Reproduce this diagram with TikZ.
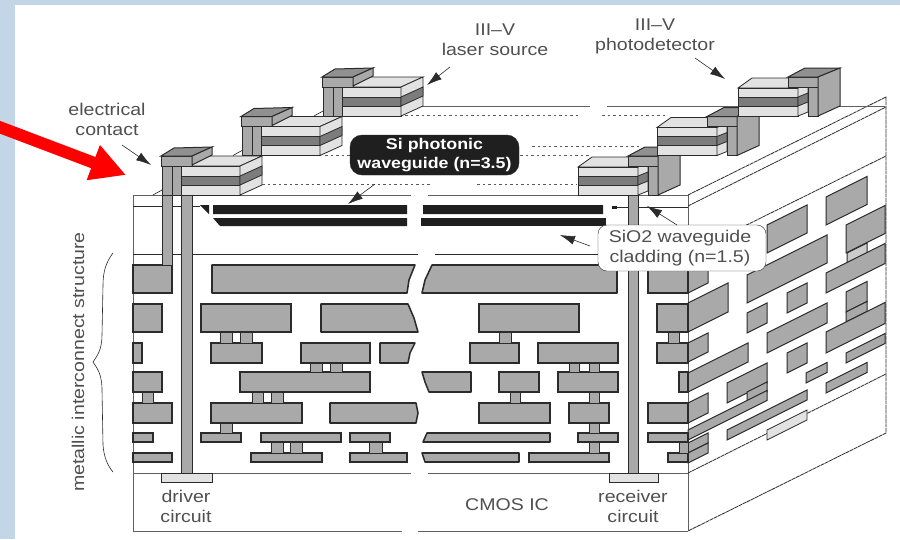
\documentclass[tikz,border=0pt]{standalone}
\usepackage{fontspec}
\usetikzlibrary{arrows.meta}
\newfontfamily\iclabfont[FakeStretch=1.15]{Liberation Sans}
\definecolor{icbg}{HTML}{C2D6E8}
\definecolor{icmid}{HTML}{A9A9A9}
\definecolor{icdark}{HTML}{7C7C7C}
\definecolor{iclight}{HTML}{E2E2E2}
\definecolor{icline}{HTML}{2B2B2B}
\definecolor{ictext}{HTML}{505050}
\newcommand{\icside}[5][icsidebox]{\draw[#1] (#2,#4) -- (#3,{#4-0.5*(#3-#2)}) -- (#3,{#5-0.5*(#3-#2)}) -- (#2,#5) -- cycle;}
\tikzset{
  icmetal/.style={draw=icline, line width=1.2pt, fill=icmid},
  icbroken/.style={draw=icline, line width=1.55pt, fill=icmid, line join=round},
  icvia/.style={draw=icline, line width=1pt, fill=icmid},
  icsidebox/.style={draw=icline, line width=1pt, fill=icmid},
  icpale/.style={draw=icline, line width=0.8pt, fill=iclight},
  icedge/.style={draw=gray!75!black, line width=0.9pt},
  icskew/.style={draw=icline, line width=0.8pt, dash pattern=on 4pt off 0.6pt},
  icdots/.style={draw=gray!70!black, line width=1pt, dash pattern=on 2.5pt off 3pt},
  icguide/.style={fill=black!88},
  iclab/.style={font=\iclabfont\fontsize{17}{20}\selectfont, text=ictext, align=center, inner sep=0pt},
  icarr/.style={-{Latex[length=15pt,width=9pt]}, draw=icline, line width=0.6pt},
  icredarr/.style={-{Triangle[length=35pt,width=35pt]}, draw=red, line width=12pt},
  icsource/.pic={
    \draw[icpale] (181,166) -- (197,156) -- (262,156) -- (240,166) -- cycle;
    \draw[icpale] (181,166) rectangle (240,195);
    \draw[icpale, fill=icdark] (181,176) rectangle (240,185);
    \draw[icpale] (240,166) -- (262,156) -- (262,185) -- (240,195) -- cycle;
    \draw[icpale, fill=icdark] (240,176) -- (262,166) -- (262,175) -- (240,185) -- cycle;
    \draw[icvia] (162,166) rectangle (172,195);
    \draw[icvia] (172,166) rectangle (181,195);
    \draw[icvia] (161,156) rectangle (192,166);
    \draw[icvia, fill=icdark!85] (161,156) -- (174,148) -- (212,147) -- (192,156) -- cycle;
    \draw[icvia] (192,156) -- (212,147) -- (212,155) -- (192,165) -- cycle;
    \draw[line width=0.5pt] (153,195) -- (162,190);
  },
  icdetector/.pic={
    \draw[icpale] (578,167) -- (592,157) -- (650,157) -- (638,167) -- cycle;
    \draw[icpale] (578,167) rectangle (638,195);
    \draw[icpale, fill=icdark] (578,176) rectangle (638,185);
    \draw[icpale] (638,167) -- (648,162) -- (648,191) -- (638,195) -- cycle;
    \draw[icpale, fill=icdark] (638,176) -- (648,172) -- (648,181) -- (638,185) -- cycle;
    \draw[icvia] (648,166) rectangle (658,195);
    \draw[icvia] (628,156) rectangle (658,166);
    \draw[icvia, fill=icdark!85] (628,156) -- (645,147) -- (680,147) -- (658,156) -- cycle;
    \draw[icvia] (658,156) -- (680,147) -- (680,185) -- (658,195) -- cycle;
  }
}
\begin{document}
\begin{tikzpicture}[x=1pt,y=-1pt]
    \useasboundingbox (0,0) rectangle (900,539);
    \fill[icbg] (0,0) rectangle (900,539);
    \fill[white] (15,5) rectangle (900,539);

    % front face
    \draw[icedge] (133,195) -- (133,531);
    \draw[icedge] (133,195) -- (411,195) (428,195) -- (688,195);
    \draw[icedge, icline] (133,206) -- (200,206) (612,207) -- (688,207);
    \draw[icedge, icline] (133,254) -- (418,254) (435,254) -- (688,254);
    \draw[icedge] (133,473) -- (411,473) (428,473) -- (688,473);
    \draw[icedge] (133,531) -- (402,531) (418,531) -- (688,531);
    \draw[icedge] (688,195) -- (688,531);

    % right face
    \draw[icskew] (688,195) -- (886,97) -- (886,433) -- (688,531);
    \draw[icskew] (688,206) -- (886,107);
    \draw[icskew] (688,254) -- (886,156);
    \draw[icskew] (688,473) -- (886,374);

    \icside{826}{867}{197}{225}
    \icside{767}{807}{225}{253}
    \icside{747}{827}{275}{303}
    \icside{846}{885}{225}{253}
    \icside[icsidebox, fill=iclight!60!icmid]{847}{867}{253}{263}
    \icside{826}{885}{273}{293}
    \icside{787}{807}{293}{313}
    \icside{747}{767}{313}{333}
    \icside{767}{827}{333}{353}
    \icside{846}{867}{292}{312}
    \icside{846}{867}{312}{322}
    \icside{826}{885}{332}{353}
    \icside{846}{885}{353}{363}
    \icside{787}{807}{353}{373}
    \icside{806}{827}{373}{383}
    \icside{826}{867}{383}{393}
    \icside{727}{767}{383}{403}
    \icside{747}{767}{392}{402}
    \icside{688}{767}{430}{440}
    \icside{727}{807}{430}{440}
    \icside[icpale]{767}{807}{430}{440}
    \icside{688}{708}{270}{293}
    \icside{688}{728}{303}{332}
    \icside{688}{708}{343}{362}
    \icside{688}{748}{373}{392}
    \icside{688}{708}{403}{423}
    \icside{688}{708}{443}{453}
    \icside{688}{708}{453}{463}

    % metal rows
    \draw[icmetal] (133,265) rectangle (172,293) (648,265) rectangle (688,293);
    \draw[icbroken] (212,265) -- (415,265) -- (409,280) -- (407,293) -- (212,293) -- cycle;
    \draw[icbroken] (432,265) -- (617,265) -- (617,293) -- (422,293) -- (425,280) -- cycle;

    \draw[icmetal] (133,304) rectangle (162,332) (201,304) rectangle (291,332) (479,304) rectangle (579,332) (657,304) rectangle (688,332);
    \draw[icbroken] (321,304) -- (408,304) -- (414,318) -- (418,332) -- (321,332) -- cycle;

    \draw[icmetal] (133,343) rectangle (142,363) (211,343) rectangle (262,363) (301,343) rectangle (370,363) (470,343) rectangle (519,363) (538,343) rectangle (618,363) (657,343) rectangle (688,363);
    \draw[icbroken] (380,343) -- (415,343) -- (410,353) -- (408,363) -- (380,363) -- cycle;

    \draw[icmetal] (133,372) rectangle (162,392) (240,372) rectangle (370,392) (499,372) rectangle (539,392) (558,372) rectangle (618,392) (679,372) rectangle (688,392);
    \draw[icbroken] (422,372) -- (471,372) -- (471,392) -- (429,392) -- (425,382) -- cycle;

    \draw[icmetal] (133,403) rectangle (172,423) (211,403) rectangle (302,423) (479,403) rectangle (550,423) (569,403) rectangle (609,423) (648,403) rectangle (688,423);
    \draw[icbroken] (330,403) -- (416,403) -- (418,413) -- (416,423) -- (330,423) -- cycle;

    \draw[icmetal] (133,433) rectangle (153,442) (201,433) rectangle (241,442) (261,433) rectangle (341,442) (350,433) rectangle (390,442) (578,433) rectangle (618,442) (648,433) rectangle (688,442);
    \draw[icbroken] (427,433) -- (550,433) -- (550,442) -- (423,442) -- cycle;

    \draw[icmetal] (133,453) rectangle (172,462) (251,453) rectangle (322,462) (350,453) rectangle (407,462) (529,453) rectangle (609,462) (668,453) rectangle (688,462);
    \draw[icbroken] (422,453) -- (519,453) -- (519,462) -- (425,462) -- cycle;

    % vias
    \draw[icvia] (220,332) rectangle (232,343) (240,332) rectangle (252,343) (499,332) rectangle (511,343) (668,332) rectangle (679,343);
    \draw[icvia] (310,363) rectangle (322,372) (330,363) rectangle (342,372) (569,363) rectangle (579,372) (589,363) rectangle (599,372);
    \draw[icvia] (142,392) rectangle (153,403) (252,392) rectangle (263,403) (271,392) rectangle (283,403) (510,392) rectangle (520,403) (589,392) rectangle (599,403);
    \draw[icvia] (220,423) rectangle (232,433) (589,423) rectangle (599,433);
    \draw[icvia] (271,442) rectangle (283,453) (290,442) rectangle (302,453) (369,442) rectangle (382,453) (589,442) rectangle (599,453) (679,442) rectangle (688,453);

    % long contacts and pads
    \draw[icvia] (162,195) rectangle (172,265);
    \draw[icvia] (181,195) rectangle (192,473);
    \draw[icvia] (628,195) rectangle (638,473);
    \draw[icpale] (161,473) rectangle (212,482);
    \draw[icpale] (609,473) rectangle (658,482);

    % waveguides
    \fill[icguide] (200,205) -- (209,205) -- (209,214) -- cycle;
    \fill[icguide] (213,205) rectangle (407,214) (423,205) rectangle (603,214);
    \fill[icguide] (213,218) -- (407,218) -- (407,226) -- (220,226) -- cycle;
    \fill[icguide] (421,218) rectangle (606,226);
    \fill[icguide] (612,206) rectangle (617,209);

    % top surface
    \draw[icdots] (262,184) -- (432,184) (477,184) -- (577,184);
    \draw[icdots] (325,155) -- (350,155) (520,155) -- (590,155);
    \draw[icdots] (532,146) -- (640,146);
    \draw[icdots] (405,115) -- (580,115) (602,115) -- (667,115);
    \draw[icedge] (421,106) -- (590,106) (607,106) -- (740,106) (837,106) -- (885,106);

    \pic at (0,0) {icsource};
    \pic at (80,-39.5) {icsource};
    \pic at (161,-79) {icsource};
    \pic at (0,0) {icdetector};
    \pic at (79,-39.5) {icdetector};
    \pic at (160,-79) {icdetector};

    % labels
    \node[iclab] (laser) at (495,40) {III–V\\laser source};
    \node[iclab] (photo) at (655,36) {III–V\\photodetector};
    \node[iclab] (contact) at (107,119) {electrical\\contact};
    \node[iclab, rotate=90] (metallic) at (78,362) {metallic interconnect structure};
    \node[iclab] (driver) at (186,506) {driver\\circuit};
    \node[iclab] (cmos) at (507,505) {CMOS IC};
    \node[iclab] (receiver) at (633,506) {receiver\\circuit};
    \node[iclab, draw=icline, fill=black!88, text=white, rounded corners=12pt, minimum width=169pt, minimum height=40pt, font=\iclabfont\fontsize{15.5}{19}\selectfont\bfseries] (photonic) at (434.5,155) {Si photonic\\waveguide (n=3.5)};
    \node[iclab, draw=icline, fill=white, rounded corners=9pt, minimum width=168pt, minimum height=46pt] (cladding) at (682,248) {\hspace*{-4pt}SiO2 waveguide\\\hspace*{-4pt}cladding (n=1.5)};

    % pointers
    \coordinate (contacttail) at (122,145);
    \coordinate (contacttip) at (151,165);
    \coordinate (lasertail) at (450,67);
    \coordinate (lasertip) at (427,85);
    \coordinate (phototail) at (695,58);
    \coordinate (phototip) at (725,79);
    \coordinate (photonictail) at (375,184);
    \coordinate (photonictip) at (348,204);
    \coordinate (gluetail) at (677,225);
    \coordinate (gluetip) at (647,206);
    \coordinate (cladtail) at (590,246);
    \coordinate (cladtip) at (560,235);
    \draw[icarr] (contacttail) -- (contacttip);
    \draw[icarr] (lasertail) -- (lasertip);
    \draw[icarr] (phototail) -- (phototip);
    \draw[icarr] (photonictail) -- (photonictip);
    \draw[icarr] (gluetail) -- (gluetip);
    \draw[icarr] (cladtail) -- (cladtip);

    % brace
    \draw[draw=icline, line width=0.6pt] (113,253) .. controls (106,262) and (103,272) .. (103,285) -- (102,335) .. controls (102,350) and (97,356) .. (93,362) .. controls (97,368) and (102,374) .. (102,390) -- (103,445) .. controls (104,458) and (108,466) .. (113,472);

    % red arrow
    \coordinate (redtail) at (-6,125);
    \coordinate (redtip) at (126,175);
    \draw[icredarr] (redtail) -- (redtip);
\end{tikzpicture}
\end{document}
